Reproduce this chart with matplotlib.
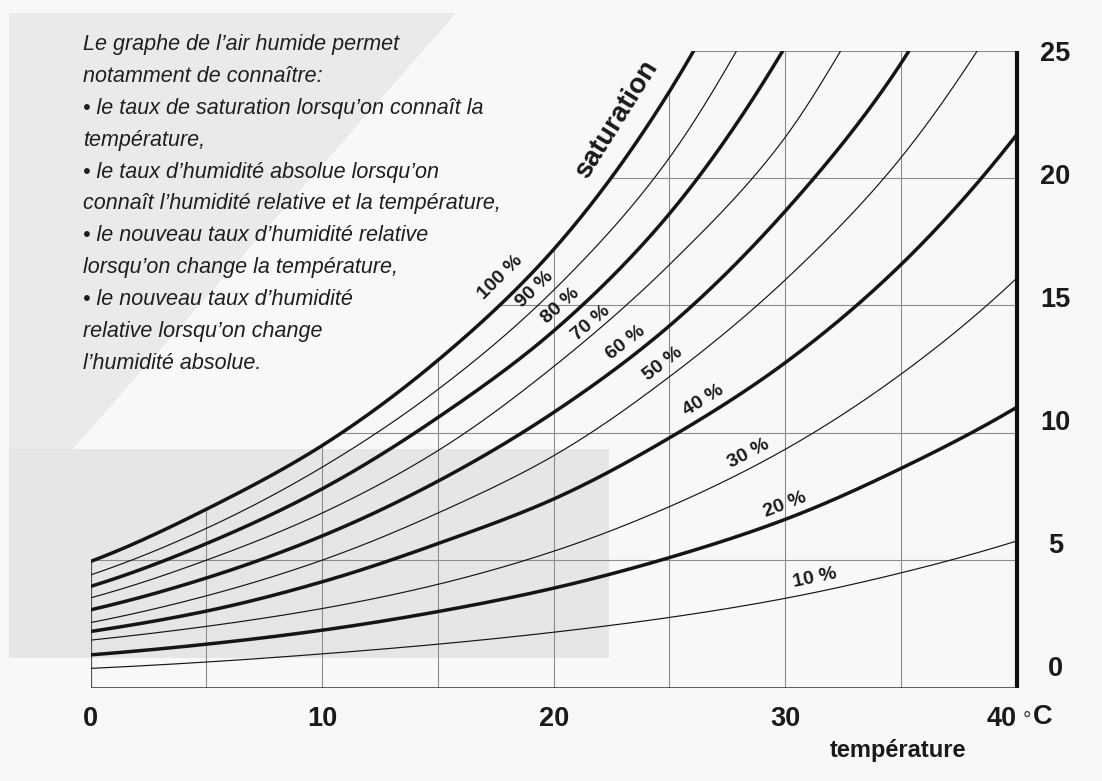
import numpy as np
import matplotlib
matplotlib.use("Agg")
import matplotlib.pyplot as plt
from matplotlib.patches import Polygon

# ---------------- data ----------------
# temperature (°C) / absolute humidity (g/m3) for each relative-humidity curve
t_100 = [0, 5, 10, 15, 20, 25, 26.05]
h_100 = [4.95, 7.0, 9.5, 12.85, 17.2, 23.4, 25.0]
t_90 = [0, 5, 10, 15, 20, 25, 27.9]
h_90 = [4.42, 6.25, 8.65, 11.7, 15.6, 20.8, 25.0]
t_80 = [0, 5, 10, 15, 20, 25, 29.9]
h_80 = [3.97, 5.65, 7.8, 10.6, 14.0, 18.6, 25.0]
t_70 = [0, 5, 10, 15, 20, 25, 30, 32.4]
h_70 = [3.52, 5.0, 6.85, 9.3, 12.6, 16.6, 21.6, 25.0]
t_60 = [0, 5, 10, 15, 20, 25, 30, 35, 35.35]
h_60 = [3.05, 4.3, 5.95, 8.1, 10.8, 14.2, 18.7, 24.5, 25.0]
t_50 = [0, 5, 10, 15, 20, 25, 30, 35, 38.3]
h_50 = [2.55, 3.6, 5.0, 6.85, 9.1, 12.2, 16.0, 20.8, 25.0]
t_40 = [0, 5, 10, 15, 20, 25, 30, 35, 40]
h_40 = [2.2, 3.0, 4.15, 5.65, 7.4, 9.8, 12.75, 16.6, 21.7]
t_30 = [0, 5, 10, 15, 20, 25, 30, 35, 40]
h_30 = [1.86, 2.4, 3.1, 4.05, 5.35, 7.1, 9.35, 12.3, 16.07]
t_20 = [0, 5, 10, 15, 20, 25, 30, 35, 40]
h_20 = [1.28, 1.7, 2.25, 2.98, 3.9, 5.1, 6.6, 8.6, 11.0]
t_10 = [0, 5, 10, 15, 20, 25, 30, 35, 40]
h_10 = [0.75, 1.0, 1.32, 1.7, 2.17, 2.75, 3.5, 4.5, 5.75]

rh_levels = [100, 90, 80, 70, 60, 50, 40, 30, 20, 10]
rh_labels = ["100 %", "90 %", "80 %", "70 %", "60 %", "50 %", "40 %", "30 %", "20 %", "10 %"]

x_ticks = [0, 10, 20, 30, 40]
x_ticklabels = ["0", "10", "20", "30", "40"]
y_ticks = [0, 5, 10, 15, 20, 25]
y_ticklabels = ["0", "5", "10", "15", "20", "25"]
x_title = "température"
curve_title = "saturation"
intro_lines = [
    "Le graphe de l\u2019air humide permet",
    "notamment de connaître:",
    "\u2022 le taux de saturation lorsqu\u2019on connaît la",
    "température,",
    "\u2022 le taux d\u2019humidité absolue lorsqu\u2019on",
    "connaît l\u2019humidité relative et la température,",
    "\u2022 le nouveau taux d\u2019humidité relative",
    "lorsqu\u2019on change la température,",
    "\u2022 le nouveau taux d\u2019humidité",
    "relative lorsqu\u2019on change",
    "l\u2019humidité absolue.",
]

curves = {
    100: (t_100, h_100), 90: (t_90, h_90), 80: (t_80, h_80), 70: (t_70, h_70),
    60: (t_60, h_60), 50: (t_50, h_50), 40: (t_40, h_40), 30: (t_30, h_30),
    20: (t_20, h_20), 10: (t_10, h_10),
}


# ---------------- smooth drawing through the read points ----------------
def pchip(x, y, xn):
    x = np.asarray(x, float)
    y = np.asarray(y, float)
    h = np.diff(x)
    d = np.diff(y) / h
    m = np.zeros_like(y)
    for k in range(1, len(x) - 1):
        if d[k - 1] * d[k] > 0:
            w1 = 2 * h[k] + h[k - 1]
            w2 = h[k] + 2 * h[k - 1]
            m[k] = (w1 + w2) / (w1 / d[k - 1] + w2 / d[k])
    m[0] = d[0]
    m[-1] = d[-1]
    idx = np.clip(np.searchsorted(x, xn) - 1, 0, len(x) - 2)
    t = (xn - x[idx]) / h[idx]
    h00 = 2 * t**3 - 3 * t**2 + 1
    h10 = t**3 - 2 * t**2 + t
    h01 = -2 * t**3 + 3 * t**2
    h11 = t**3 - t**2
    return h00 * y[idx] + h10 * h[idx] * m[idx] + h01 * y[idx + 1] + h11 * h[idx] * m[idx + 1]


def dense(t, h, n=400):
    tt = np.linspace(t[0], t[-1], n)
    hh = np.exp(pchip(t, np.log(h), tt))
    return tt, hh


W, H = 1102, 781
fig = plt.figure(figsize=(W / 100, H / 100), dpi=100)
fig.patch.set_facecolor("#f8f8f8")


def fx(px):
    return px / W


def fy(py):
    return 1 - py / H


# background shading (scan of a printed page)
band = Polygon([(fx(9), fy(13)), (fx(456), fy(13)), (fx(72), fy(450)), (fx(9), fy(450))],
               closed=True, transform=fig.transFigure, facecolor="#eaeaea",
               edgecolor="none", zorder=0)
fig.add_artist(band)
rect = Polygon([(fx(9), fy(449)), (fx(609), fy(449)), (fx(609), fy(658)), (fx(9), fy(658))],
               closed=True, transform=fig.transFigure, facecolor="#e6e6e6",
               edgecolor="none", zorder=0)
fig.add_artist(rect)

x0p, x1p, y0p, y1p = 90.7, 1016.7, 687.5, 50.7
ax = fig.add_axes([fx(x0p), fy(y0p), (x1p - x0p) / W, (y0p - y1p) / H])
ax.set_xlim(0, 40)
ax.set_ylim(0, 25)
ax.patch.set_alpha(0)
for s in ax.spines.values():
    s.set_visible(False)

BOLD = ["Liberation Sans", "DejaVu Sans"]
ITAL = ["Liberation Sans Narrow", "Liberation Sans", "DejaVu Sans"]

# saturation curve, used for clipping the grid
sat_t, sat_h = dense(*curves[100])

grid_c = "#8a8c90"
for T in [5, 10, 15, 20, 25, 30, 35]:
    top = 25 if T >= sat_t[-1] else min(25, np.interp(T, sat_t, sat_h))
    ax.plot([T, T], [0, top], color=grid_c, lw=0.8, zorder=1, solid_capstyle="butt")
for Y in [5, 10, 15, 20, 25]:
    start = np.interp(Y, sat_h, sat_t)
    ax.plot([start, 40], [Y, Y], color=grid_c, lw=0.8, zorder=1, solid_capstyle="butt")
ax.plot([0, 0], [0, sat_h[0]], color="#555555", lw=0.9, zorder=1)
ax.plot([0, 40], [0, 0], color="#333333", lw=1.1, zorder=2, solid_capstyle="butt")
ax.plot([40, 40], [0, 25], color="#111111", lw=3.0, zorder=4, solid_capstyle="butt",
        clip_on=False)

dense_curves = {}
for rh in rh_levels:
    t, h = curves[rh]
    tt, hh = dense(t, h)
    dense_curves[rh] = (tt, hh)
    thick = rh in (100, 80, 60, 40, 20)
    ax.plot(tt, hh, color="#151515", lw=2.5 if thick else 0.85, zorder=3,
            solid_capstyle="butt", solid_joinstyle="round")

fig.canvas.draw()


def label_on_curve(rh, T, text, dist, size, extra_rot=0.0, family=BOLD, weight="bold"):
    tt, hh = dense_curves[rh]
    y = np.interp(T, tt, hh)
    p1 = ax.transData.transform((T - 0.15, np.interp(T - 0.15, tt, hh)))
    p2 = ax.transData.transform((T + 0.15, np.interp(T + 0.15, tt, hh)))
    ang = np.degrees(np.arctan2(p2[1] - p1[1], p2[0] - p1[0]))
    a = np.radians(ang)
    dx, dy = -np.sin(a) * dist, np.cos(a) * dist
    ax.annotate(text, (T, y), xytext=(dx, dy), textcoords="offset points",
                rotation=ang + extra_rot, rotation_mode="anchor", ha="center", va="center",
                fontsize=size, fontweight=weight, family=family, color="#1a1a1a",
                zorder=5, annotation_clip=False)


label_pos = {100: 18.3, 90: 19.6, 80: 20.7, 70: 21.9, 60: 23.5, 50: 25.1,
             40: 26.8, 30: 28.7, 20: 30.2, 10: 31.4}
label_dist = {100: 14, 90: 10, 80: 10, 70: 7, 60: 10, 50: 10,
              40: 10, 30: 10, 20: 10, 10: 10}
for rh, lab in zip(rh_levels, rh_labels):
    label_on_curve(rh, label_pos[rh], lab, label_dist[rh], 14)
label_on_curve(100, 23.75, curve_title, 21, 20, extra_rot=2)

# axis tick labels
ax.set_xticks(x_ticks)
ax.set_xticklabels(x_ticklabels, fontsize=19.5, fontweight="bold", family=BOLD, color="#1a1a1a")
ax.tick_params(axis="x", length=0, pad=13)
ax.get_xticklabels()[-1].set_ha("right")
ax.set_yticks([])

ax2 = ax.twinx()
ax2.set_ylim(-0.887, 24.847)
for s in ax2.spines.values():
    s.set_visible(False)
ax2.set_yticks(y_ticks)
ax2.set_yticklabels(y_ticklabels, fontsize=19.5, fontweight="bold", family=BOLD, color="#1a1a1a")
ax2.tick_params(axis="y", length=0, pad=28)
for tl in ax2.get_yticklabels():
    tl.set_ha("center")

fig.text(fx(1026.5), fy(720), "\u00b0", fontsize=15, family=BOLD, color="#333333",
         ha="center", va="center")
fig.text(fx(1043), fy(717), "C", fontsize=19.5, fontweight="bold", family=BOLD,
         color="#1a1a1a", ha="center", va="center")
fig.text(fx(898), fy(751), x_title, fontsize=17, fontweight="bold", family=BOLD,
         color="#1a1a1a", ha="center", va="center")

for i, line in enumerate(intro_lines):
    fig.text(fx(83), fy(50 + 31.9 * i), line, fontsize=15.5, style="italic",
             family=ITAL, color="#1e1e1e", ha="left", va="baseline")

fig.savefig("out.png", dpi=100, facecolor=fig.get_facecolor())
